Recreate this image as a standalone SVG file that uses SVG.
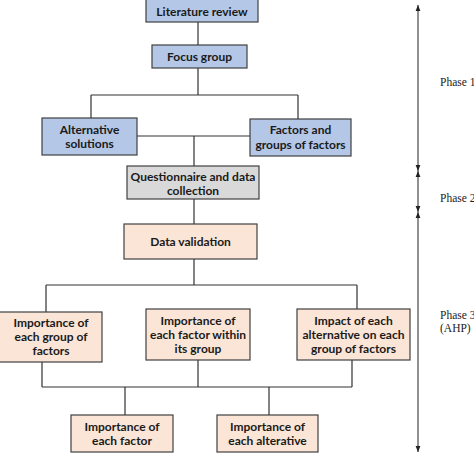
<svg xmlns="http://www.w3.org/2000/svg" width="474" height="456" viewBox="0 0 474 456">
<defs>
<style>
.b{stroke:#404040;stroke-width:1.2}
.blue{fill:#b4c7e7}
.grey{fill:#d9d9d9}
.peach{fill:#fbe5d6}
.t{font-family:Lato,"Open Sans",sans-serif;font-weight:bold;font-size:12px;fill:#1a1a1a;text-anchor:middle}
.p{font-family:"Liberation Serif",serif;font-size:11.5px;fill:#222}
.c{fill:none;stroke:#333;stroke-width:1.2}
.ax{fill:none;stroke:#222;stroke-width:1}
</style>
<marker id="ah" viewBox="0 0 10 10" refX="10" refY="5" markerWidth="6" markerHeight="6" orient="auto-start-reverse">
<path d="M0,1 L10,5 L0,9 z" fill="#222"/>
</marker>
</defs>
<rect width="474" height="456" fill="#fff"/>
<g id="connectors">
<path class="c" d="M198,22 V45"/>
<path class="c" d="M198,68 V95 M91,95 H298 M91,95 V118 M298,95 V119"/>
<path class="c" d="M137,136 H250 M194,136 V166"/>
<path class="c" d="M194,199 V224"/>
<path class="c" d="M194,259 V285 M46,285 H357 M46,285 V312 M357,285 V309"/>
<path class="c" d="M42,362 V387 M198,360 V387 M352,360 V387 M42,387 H352 M125,387 V415 M269,387 V415"/>
</g>
<g id="phase-axis">
<line class="ax" x1="418" y1="171" x2="418" y2="5" marker-end="url(#ah)" marker-start="url(#ah)"/>
<line class="ax" x1="418" y1="171" x2="418" y2="212" marker-end="url(#ah)" marker-start="url(#ah)"/>
<line class="ax" x1="418" y1="212" x2="418" y2="452" marker-end="url(#ah)" marker-start="url(#ah)"/>
</g>
<g id="phase1"><text class="p" x="440" y="86">Phase 1</text></g>
<g id="phase2"><text class="p" x="440" y="202">Phase 2</text></g>
<g id="phase3"><text class="p" x="440" y="319">Phase 3</text><text class="p" x="440" y="332">(AHP)</text></g>
<g id="literature-review"><rect class="b blue" x="146" y="-1" width="112" height="23"/><text class="t" x="202" y="16">Literature review</text></g>
<g id="focus-group"><rect class="b blue" x="152" y="45" width="95" height="23"/><text class="t" x="199.5" y="61">Focus group</text></g>
<g id="alternative-solutions"><rect class="b blue" x="42" y="118" width="95" height="37"/><text class="t" x="89.5" y="134">Alternative</text><text class="t" x="89.5" y="148">solutions</text></g>
<g id="factors"><rect class="b blue" x="250" y="119" width="101" height="37"/><text class="t" x="300.5" y="134">Factors and</text><text class="t" x="300.5" y="149">groups of factors</text></g>
<g id="questionnaire"><rect class="b grey" x="127" y="166" width="132" height="33"/><text class="t" x="193" y="181">Questionnaire and data</text><text class="t" x="193" y="195">collection</text></g>
<g id="data-validation"><rect class="b peach" x="124" y="224" width="133" height="35"/><text class="t" x="190.5" y="246">Data validation</text></g>
<g id="importance-group"><rect class="b peach" x="-1" y="312" width="103" height="50"/><text class="t" x="51" y="327">Importance of</text><text class="t" x="51" y="341">each group of</text><text class="t" x="51" y="355">factors</text></g>
<g id="importance-factor-within"><rect class="b peach" x="146" y="309" width="104" height="51"/><text class="t" x="198" y="325">Importance of</text><text class="t" x="198" y="339">each factor within</text><text class="t" x="198" y="353">its group</text></g>
<g id="impact-alternative"><rect class="b peach" x="297" y="309" width="113" height="51"/><text class="t" x="353.5" y="325">Impact of each</text><text class="t" x="353.5" y="339">alternative on each</text><text class="t" x="353.5" y="353">group of factors</text></g>
<g id="importance-factor"><rect class="b peach" x="71" y="415" width="102" height="37"/><text class="t" x="122" y="431">Importance of</text><text class="t" x="122" y="445">each factor</text></g>
<g id="importance-alternative"><rect class="b peach" x="217" y="415" width="101" height="37"/><text class="t" x="267.5" y="431">Importance of</text><text class="t" x="267.5" y="445">each alterative</text></g>
</svg>
